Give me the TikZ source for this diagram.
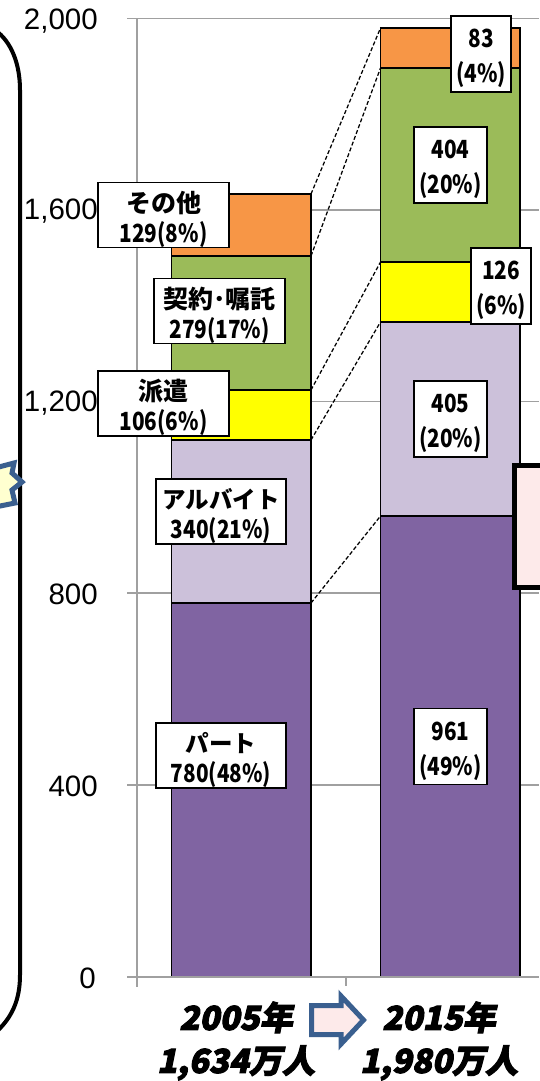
\documentclass[tikz,border=0pt]{standalone}
\usepackage{fontspec}
\setmainfont{Liberation Sans}
\newfontfamily\jp{Noto Sans CJK JP}
\newfontfamily\jpn{Noto Sans CJK JP}[FakeStretch=0.83]
\newfontfamily\jpb{Noto Sans CJK JP}[BoldFeatures={FakeBold=3,FakeSlant=0.2},UprightFeatures={FakeBold=3,FakeSlant=0.2}]
\definecolor{cOrange}{HTML}{F79646}
\definecolor{cGreen}{HTML}{9BBB59}
\definecolor{cYellow}{HTML}{FFFF00}
\definecolor{cLilac}{HTML}{CCC1DA}
\definecolor{cPurple}{HTML}{8064A2}
\definecolor{cGrid}{HTML}{A0A0A0}
\definecolor{cBlue}{HTML}{3A5F8F}
\definecolor{cPink}{HTML}{FDEAEA}
\definecolor{cStar}{HTML}{FFFFD0}
\newcommand{\upl}{\rule{0pt}{30pt}}
\newcommand{\upr}{\rule{0pt}{28pt}}
\newcommand{\nm}{\jpn\bfseries\fontsize{25}{30}\selectfont}
\newcommand{\nr}{\jpn\bfseries\fontsize{25}{35}\selectfont}
\newcommand{\kana}{\fontsize{23.5}{30}\selectfont}
\tikzset{
  x=1pt,y=-1pt,
  seg/.style={draw=black,line width=1.4pt,inner sep=0pt,outer sep=0pt,minimum width=139.5pt,anchor=north west},
  lab/.style={draw=black,fill=white,line width=1.3pt,inner sep=0pt,outer sep=0pt,align=center,anchor=center},
  labL/.style={lab,minimum height=65pt,font=\jp\bfseries\fontsize{25}{30}\selectfont},
  labR/.style={lab,minimum height=76pt,font=\nr},
  grid/.style={draw=cGrid,line width=1.2pt},
  link/.style={draw=black,line width=1.25pt,dash pattern=on 4pt off 2.2pt},
  axlab/.style={anchor=east,inner sep=0pt,font=\fontsize{29.5}{30}\selectfont,text=black},
  yearlab/.style={inner sep=0pt,align=center,font=\jpb\bfseries\fontsize{33}{44}\selectfont}
}
\begin{document}
\begin{tikzpicture}
\useasboundingbox (0,0) rectangle (539,1081);
\fill[white] (0,0) rectangle (539,1081);
% grid
\foreach \yy in {18.5,210,401.5,593,785}{\draw[grid] (127,\yy) -- (539,\yy);}
\draw[grid] (137,18.5) -- (137,987);
\draw[grid] (346,977) -- (346,986);
% bars
\node[seg,fill=cOrange,minimum height=62pt] (lo) at (171.5,194) {};
\node[seg,fill=cGreen,minimum height=134pt] (lg) at (171.5,256) {};
\node[seg,fill=cYellow,minimum height=50pt] (ly) at (171.5,390) {};
\node[seg,fill=cLilac,minimum height=163pt] (ll) at (171.5,440) {};
\node[seg,fill=cPurple,minimum height=374pt] (lp) at (171.5,603) {};
\node[seg,fill=cOrange,minimum height=40pt] (ro) at (380.5,28) {};
\node[seg,fill=cGreen,minimum height=194pt] (rg) at (380.5,68) {};
\node[seg,fill=cYellow,minimum height=60pt] (ry) at (380.5,262) {};
\node[seg,fill=cLilac,minimum height=194pt] (rl) at (380.5,322) {};
\node[seg,fill=cPurple,minimum height=461pt] (rp) at (380.5,516) {};
\draw[grid] (127,977) -- (539,977);
% connectors
\draw[link] (lo.north east) -- (ro.north west);
\draw[link] (lg.north east) -- (rg.north west);
\draw[link] (ly.north east) -- (ry.north west);
\draw[link] (ll.north east) -- (rl.north west);
\draw[link] (lp.north east) -- (rp.north west);
% axis labels
\node[axlab] (a2000) at (98,21) {2,000};
\node[axlab] (a1600) at (98,211) {1,600};
\node[axlab] (a1200) at (98,403) {1,200};
\node[axlab] (a800) at (98,594) {800};
\node[axlab] (a400) at (98,786) {400};
\node[axlab] (a0) at (96,978) {0};
% data labels
\node[labL,minimum width=131pt] (t1) at (163.5,215) {\upl その他\\{\nm 129(8\%)}};
\node[labL,minimum width=131pt] (t2) at (219.5,311) {\upl 契約･嘱託\\{\nm 279(17\%)}};
\node[labL,minimum width=131pt] (t3) at (163.5,403.5) {\upl 派遣\\{\nm 106(6\%)}};
\node[labL,minimum width=130pt] (t4) at (221,511.5) {\upl{\kana アルバイト}\\{\nm 340(21\%)}};
\node[labL,minimum width=130pt] (t5) at (221,755.5) {\upl{\kana パート}\\{\nm 780(48\%)}};
\node[labR,minimum width=60pt] (r1) at (481,54) {\upr 83\\(4\%)};
\node[labR,minimum width=73pt] (r2) at (450.5,165) {\upr 404\\(20\%)};
\node[labR,minimum width=60pt] (r3) at (501,286) {\upr 126\\(6\%)};
\node[labR,minimum width=73pt] (r4) at (450.5,419) {\upr 405\\(20\%)};
\node[labR,minimum width=73pt] (r5) at (450.5,746.5) {\upr 961\\(49\%)};
% outer shapes
\draw[black,line width=4pt] (-5,30) .. controls (12,42) and (20,65) .. (20,90) -- (20,975) .. controls (20,1000) and (12,1018) .. (-5,1033);
\draw[cBlue,line width=5pt,fill=cStar,miter limit=10] (-5,468) -- (14,463) -- (12,473) -- (22,482) -- (12,490) -- (15,503) -- (-5,507);
\draw[black,line width=5pt,fill=cPink] (545,465.5) -- (514.5,465.5) -- (514.5,587.5) -- (545,587.5);
% arrow
\draw[cBlue,line width=5pt,fill=cPink,line join=miter] (311.5,1005.5) -- (341,1005.5) -- (341,996) -- (363.5,1020) -- (341,1044) -- (341,1034.5) -- (311.5,1034.5) -- cycle;
% year labels
\node[yearlab] (y1) at (236,1041) {2005年\\[-1pt]1,634万人};
\node[yearlab] (y2) at (439,1041) {2015年\\[-1pt]1,980万人};
\end{tikzpicture}
\end{document}
